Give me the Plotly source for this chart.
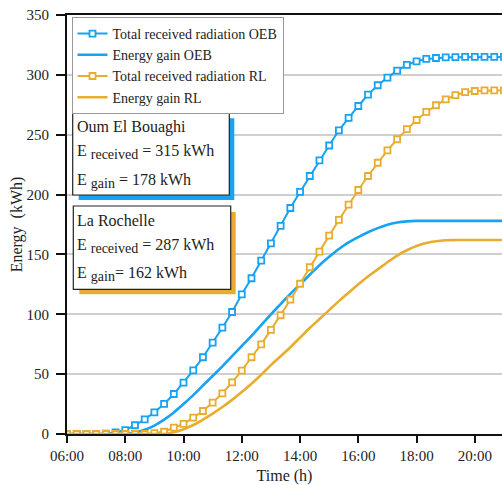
import plotly.graph_objects as go

times = ["06:00","06:20","06:40","07:00","07:20","07:40","08:00","08:20","08:40","09:00",
         "09:20","09:40","10:00","10:20","10:40","11:00","11:20","11:40","12:00","12:20",
         "12:40","13:00","13:20","13:40","14:00","14:20","14:40","15:00","15:20","15:40",
         "16:00","16:20","16:40","17:00","17:20","17:40","18:00","18:20","18:40","19:00",
         "19:20","19:40","20:00","20:20","20:40","21:00"]

oeb_received = [0, 0, 0, 0, 0.3, 1.4, 3.3, 7.3, 12.3, 18.1,
                25.1, 33.4, 42.9, 53.2, 64.1, 76.3, 88.8, 101.9, 116.7, 130.1,
                144.8, 159.3, 173.8, 188.8, 202.2, 215.5, 228.5, 241, 253.7, 264,
                274, 283.5, 291.3, 297.7, 303.5, 308.3, 311.3, 313.3, 314.1, 314.6,
                314.8, 315, 315, 315, 315, 315]
oeb_gain = [0, 0, 0, 0, 0, 0, 0.3, 1.3, 3.5, 7,
            12, 18, 25, 32.5, 40.5, 48.5, 56.5, 65, 73.5, 82,
            91, 100, 108.5, 117, 125, 133, 141, 148, 154.5, 160,
            164.5, 168.5, 172, 174.8, 176.6, 177.6, 178, 178, 178, 178,
            178, 178, 178, 178, 178, 178]
rl_received = [0, 0, 0, 0, 0, 0, 0, 0, 0, 0.8,
               1.9, 5.3, 8.4, 13.6, 19.2, 26.2, 34.0, 43.2, 52.9, 64.1,
               74.9, 87, 99.2, 112.2, 125.5, 139.3, 152.3, 165.7, 178.8, 191.6,
               203.8, 215.5, 226.6, 237, 246.2, 254.7, 262.3, 269, 274.6, 279.6,
               283, 285.5, 286.5, 287, 287, 287]
rl_gain = [0, 0, 0, 0, 0, 0, 0, 0, 0, 0,
           0, 1.5, 4, 7.5, 12, 17, 22.5, 28.5, 35, 42,
           49.5, 57.5, 65, 72.5, 80.5, 88.5, 96, 103.5, 111, 118,
           125, 131.5, 137.5, 143.5, 149, 153.5, 157, 159.5, 161, 161.8,
           162, 162, 162, 162, 162, 162]

tick_hours = [6, 8, 10, 12, 14, 16, 18, 20]
tick_labels = ["06:00", "08:00", "10:00", "12:00", "14:00", "16:00", "18:00", "20:00"]

hours = [int(t[:2]) + int(t[3:]) / 60 for t in times]

BLUE = "#17A2F2"
ORANGE = "#E8AD2E"
FONT = "Liberation Serif"

fig = go.Figure()
fig.add_trace(go.Scatter(x=hours, y=oeb_received, mode="lines+markers",
                         name="Total received radiation OEB",
                         line=dict(color=BLUE, width=2),
                         marker=dict(symbol="square", size=6, color="white",
                                     line=dict(color=BLUE, width=1.8))))
fig.add_trace(go.Scatter(x=hours, y=oeb_gain, mode="lines", name="Energy gain OEB",
                         line=dict(color=BLUE, width=2.6, shape="spline")))
fig.add_trace(go.Scatter(x=hours, y=rl_received, mode="lines+markers",
                         name="Total received radiation RL",
                         line=dict(color=ORANGE, width=2),
                         marker=dict(symbol="square", size=6, color="white",
                                     line=dict(color=ORANGE, width=1.8))))
fig.add_trace(go.Scatter(x=hours, y=rl_gain, mode="lines", name="Energy gain RL",
                         line=dict(color=ORANGE, width=2.6, shape="spline")))

L, T, R, B = 67, 15, 502, 434
def px(xp):
    return (xp - L) / (R - L)
def py(yp):
    return (B - yp) / (B - T)

shapes = []
annotations = []
def box(x0, y0, x1, y1, color, lines):
    shapes.append(dict(type="rect", xref="paper", yref="paper",
                       x0=px(x0 + 6), x1=px(x1 + 5), y0=py(y1 + 5), y1=py(y0 + 6),
                       fillcolor=color, line=dict(width=0), layer="above"))
    shapes.append(dict(type="rect", xref="paper", yref="paper",
                       x0=px(x0), x1=px(x1), y0=py(y1), y1=py(y0),
                       fillcolor="white", line=dict(color="#222", width=1.2), layer="above"))
    for text, yy in lines:
        annotations.append(dict(xref="paper", yref="paper", x=px(x0 + 2), y=py(yy),
                                xanchor="left", yanchor="middle", showarrow=False,
                                text=text, font=dict(family=FONT, size=16, color="#222")))

sub = lambda s: '<sub><span style="font-size:14px">' + s + '</span></sub>'
box(72.7, 112.3, 229.3, 195, BLUE,
    [("Oum El Bouaghi", 127), ("E " + sub("received") + " = 315 kWh", 152),
     ("E " + sub("gain") + " = 178 kWh", 181)])
box(73.3, 206, 230.7, 289.3, ORANGE,
    [("La Rochelle", 220), ("E " + sub("received") + " = 287 kWh", 246),
     ("E " + sub("gain") + "= 162 kWh", 274)])

fig.update_layout(
    width=502, height=485,
    margin=dict(l=L, r=0, t=T, b=485 - B, autoexpand=False),
    paper_bgcolor="white", plot_bgcolor="white",
    font=dict(family=FONT, size=15, color="#222"),
    showlegend=True,
    legend=dict(x=px(71.5), y=py(17), xanchor="left", yanchor="top",
                bgcolor="white", bordercolor="#999", borderwidth=1,
                font=dict(family=FONT, size=14, color="#222"),
                tracegroupgap=0, itemwidth=30),
    shapes=shapes, annotations=annotations,
    xaxis=dict(range=[6, 6 + (R - L) / 29.13], tickvals=tick_hours, ticktext=tick_labels,
               showgrid=False, zeroline=False, showline=True, linecolor="#111",
               linewidth=2, mirror=True, ticks="outside", ticklen=7, tickwidth=1.5,
               tickcolor="#111", tickfont=dict(size=15), automargin=False,
               title=dict(text="Time (h)", font=dict(size=16), standoff=8)),
    yaxis=dict(range=[0, 350], tickvals=[0, 50, 100, 150, 200, 250, 300, 350],
               showgrid=True, gridcolor="#cfcfcf", gridwidth=1.5, zeroline=False,
               showline=True, linecolor="#111", linewidth=2, ticks="outside",
               ticklen=9, tickwidth=1.5, tickcolor="#111", tickfont=dict(size=15),
               ticklabelstandoff=4, automargin=False,
               title=dict(text="Energy  (kWh)", font=dict(size=16), standoff=0)),
)

fig.write_html("out.html", config={"displayModeBar": False},
               post_script="document.body.style.margin='0';document.body.style.overflow='hidden';")
